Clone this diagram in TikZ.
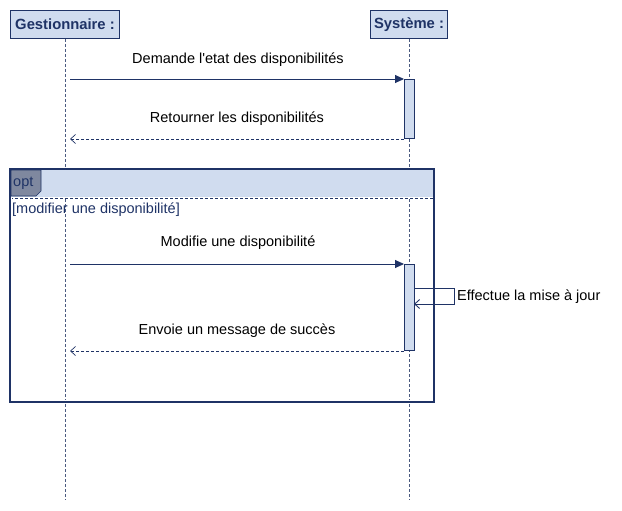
\documentclass[tikz,border=0pt]{standalone}
\usepackage{fontspec}
\setmainfont{Liberation Sans}[Ligatures=TeXOff]
\usetikzlibrary{arrows.meta}
\definecolor{dblue}{HTML}{1F3366}
\definecolor{lblue}{HTML}{D0DCEF}
\definecolor{lgray}{HTML}{4A5A80}
\definecolor{tabgray}{HTML}{7F889F}
\tikzset{
  head/.style={draw=dblue, line width=1pt, fill=lblue, text=dblue, font=\fontsize{14.8}{16}\selectfont\bfseries, minimum height=28pt, inner sep=1pt, anchor=north west},
  lifeline/.style={draw=lgray, dashed, dash pattern=on 3pt off 2pt, line width=0.6pt},
  act/.style={draw=dblue, line width=0.9pt, fill=lblue},
  msg/.style={draw=dblue, line width=0.9pt, -{Triangle[length=9pt,width=8pt]}},
  ret/.style={draw=dblue, line width=0.7pt, dash pattern=on 3pt off 2pt, -{Straight Barb[length=5pt,width=9pt]}},
  selfmsg/.style={draw=dblue, line width=0.9pt, -{Straight Barb[length=5pt,width=9pt]}},
  lbl/.style={font=\fontsize{14.5}{16}\selectfont, text=black, inner sep=0pt},
}
\begin{document}
\begin{tikzpicture}[x=1pt,y=-1pt]
\useasboundingbox (0,0) rectangle (622,511);
% heads
\node[head, minimum width=109pt] (g) at (10,10) {Gestionnaire :};
\node[head, minimum width=77pt] (s) at (370,10) {Système :};
\coordinate (gend) at (65,500);
\coordinate (send) at (409,500);
\draw[lifeline] (g.south -| gend) -- (gend);
\draw[lifeline] (s.south -| send) -- (send);
% opt frame
\fill[lblue] (10,169) rectangle (434,197);
\draw[dblue, line width=0.9pt, dash pattern=on 3pt off 2pt] (10,198) -- (434,198);
\draw[dblue, line width=2pt] (10,169) rectangle (434,402);
\draw[white, line width=0.5pt, dash pattern=on 2pt off 2pt] (11.5,197) -- (11.5,400.5) -- (432.5,400.5) -- (432.5,197);
\draw[dblue, line width=0.6pt, fill=tabgray] (11,170) -- (41,170) -- (41,191) -- (36,196) -- (11,196) -- cycle;
\node[lbl, text=dblue, anchor=west] (opt) at (13,183) {opt};
\node[lbl, text=dblue, anchor=west] (guard) at (12,210) {[modifier une disponibilité]};
% lifeline coords
\coordinate (g1) at (70,79);
\coordinate (s1) at (404,79);
\coordinate (s2) at (404,139);
\coordinate (g2) at (70,139);
\coordinate (g3) at (70,264);
\coordinate (s3) at (404,264);
\coordinate (s4) at (404,351);
\coordinate (g4) at (70,351);
% activations
\draw[act] (404,79) rectangle (414,138);
\draw[act] (404,264) rectangle (414,350);
% messages
\draw[msg] (g1) -- (s1);
\node[lbl] (m1) at (238,60) {Demande l'etat des disponibilités};
\draw[ret] (s2) -- (g2);
\node[lbl] (m2) at (237,119) {Retourner les disponibilités};
\draw[msg] (g3) -- (s3);
\node[lbl] (m3) at (238,243) {Modifie une disponibilité};
\coordinate (a) at (414,288);
\coordinate (b) at (454,288);
\coordinate (c) at (454,304);
\coordinate (d) at (414,304);
\draw[selfmsg] (a) -- (b) -- (c) -- (d);
\node[lbl, anchor=west] (m4) at (457,297) {Effectue la mise à jour};
\draw[ret] (s4) -- (g4);
\node[lbl] (m5) at (237,331) {Envoie un message de succès};
\end{tikzpicture}
\end{document}
